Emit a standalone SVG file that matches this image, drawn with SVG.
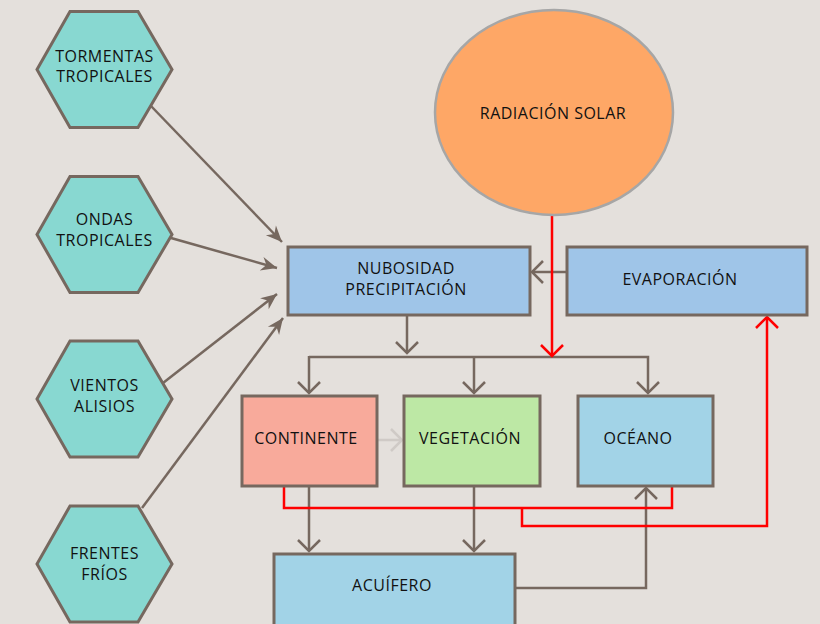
<svg xmlns="http://www.w3.org/2000/svg" width="820" height="624" viewBox="0 0 820 624">
<defs>
<style>
.hex{fill:#88d8d1;stroke:#76685f;stroke-width:3}
.box{stroke:#76685f;stroke-width:3}
.t{font-family:"Open Sans","Liberation Sans",sans-serif;font-size:16px;fill:#111111;text-anchor:middle;letter-spacing:0.5px}
.c{fill:none;stroke:#76685f;stroke-width:2.5}
.r{fill:none;stroke:#ff0000;stroke-width:2.5}
</style>
<marker id="fa" markerUnits="userSpaceOnUse" markerWidth="20" markerHeight="20" viewBox="0 0 20 20" refX="16" refY="10" orient="auto" overflow="visible">
<path d="M0,3 L16,10 L0,17 L5,10 z" fill="#76685f"/>
</marker>
<marker id="oa" markerUnits="userSpaceOnUse" markerWidth="26" markerHeight="26" viewBox="0 0 26 26" refX="13" refY="13" orient="auto" overflow="visible">
<path d="M2,2 L13,13 L2,24" fill="none" stroke="#76685f" stroke-width="2.5"/>
</marker>
<marker id="og" markerUnits="userSpaceOnUse" markerWidth="26" markerHeight="26" viewBox="0 0 26 26" refX="13" refY="13" orient="auto" overflow="visible">
<path d="M2,2 L13,13 L2,24" fill="none" stroke="#cfcac6" stroke-width="2.5"/>
</marker>
<marker id="ra" markerUnits="userSpaceOnUse" markerWidth="26" markerHeight="26" viewBox="0 0 26 26" refX="13" refY="13" orient="auto" overflow="visible">
<path d="M2,2 L13,13 L2,24" fill="none" stroke="#ff0000" stroke-width="2.5"/>
</marker>
</defs>
<rect width="820" height="624" fill="#e4e0dc"/>

<g id="connectors">
<line class="c" x1="151" y1="106" x2="282" y2="242" marker-end="url(#fa)"/>
<line class="c" x1="171" y1="238" x2="277" y2="268" marker-end="url(#fa)"/>
<line class="c" x1="163" y1="383" x2="277" y2="294" marker-end="url(#fa)"/>
<line class="c" x1="142" y1="508" x2="283" y2="318" marker-end="url(#fa)"/>
<line class="c" x1="407" y1="316" x2="407" y2="353" marker-end="url(#oa)"/>
<polyline class="c" points="309,357 648,357 648,393" marker-end="url(#oa)"/>
<line class="c" x1="309" y1="356" x2="309" y2="393" marker-end="url(#oa)"/>
<line class="c" x1="474" y1="357" x2="474" y2="393" marker-end="url(#oa)"/>
<line class="c" x1="567" y1="272" x2="532" y2="272" marker-end="url(#oa)"/>
<line x1="378" y1="440" x2="402" y2="440" stroke="#cfcac6" stroke-width="2.5" marker-end="url(#og)"/>
<line class="c" x1="309" y1="487" x2="309" y2="551" marker-end="url(#oa)"/>
<line class="c" x1="474" y1="487" x2="474" y2="551" marker-end="url(#oa)"/>
<polyline class="c" points="516,588 646,588 646,488" marker-end="url(#oa)"/>
<line class="r" x1="552" y1="215" x2="552" y2="356" marker-end="url(#ra)"/>
<polyline class="r" points="284,487 284,508 672,508 672,487"/>
<polyline class="r" points="522,507 522,526 767,526 767,317" marker-end="url(#ra)"/>
</g>

<g id="tormentas">
<polygon class="hex" points="37,69.5 70,11.5 138,11.5 172,69.5 138,127.5 70,127.5"/>
<text class="t" x="104.5" y="62">TORMENTAS</text>
<text class="t" x="104.5" y="82">TROPICALES</text>
</g>
<g id="ondas">
<polygon class="hex" points="37,234.5 70,176.5 138,176.5 172,234.5 138,292.5 70,292.5"/>
<text class="t" x="104.5" y="225">ONDAS</text>
<text class="t" x="104.5" y="246">TROPICALES</text>
</g>
<g id="vientos">
<polygon class="hex" points="37,399 70,341 138,341 172,399 138,457 70,457"/>
<text class="t" x="104.5" y="391">VIENTOS</text>
<text class="t" x="104.5" y="412">ALISIOS</text>
</g>
<g id="frentes">
<polygon class="hex" points="37,564 70,506 138,506 172,564 138,622 70,622"/>
<text class="t" x="104.5" y="559">FRENTES</text>
<text class="t" x="104.5" y="580">FRÍOS</text>
</g>

<g id="radiacion">
<ellipse cx="554" cy="112.5" rx="119" ry="102.5" fill="#fea766" stroke="#a6a6a6" stroke-width="2.5"/>
<text class="t" x="553" y="119">RADIACIÓN SOLAR</text>
</g>

<g id="nubosidad">
<rect class="box" x="288" y="247" width="242" height="68" fill="#9fc5e8"/>
<text class="t" x="406" y="274">NUBOSIDAD</text>
<text class="t" x="406" y="295">PRECIPITACIÓN</text>
</g>
<g id="evaporacion">
<rect class="box" x="567" y="247" width="240" height="68" fill="#9fc5e8"/>
<text class="t" x="680" y="285">EVAPORACIÓN</text>
</g>
<g id="continente">
<rect class="box" x="242" y="396" width="135" height="90" fill="#f8aa9b"/>
<text class="t" x="306" y="444">CONTINENTE</text>
</g>
<g id="vegetacion">
<rect class="box" x="404" y="396" width="136" height="90" fill="#bde8a5"/>
<text class="t" x="470" y="444">VEGETACIÓN</text>
</g>
<g id="oceano">
<rect class="box" x="578" y="396" width="135" height="90" fill="#a2d3e7"/>
<text class="t" x="638" y="444">OCÉANO</text>
</g>
<g id="acuifero">
<rect class="box" x="274" y="554" width="241" height="72" fill="#a2d3e7"/>
<text class="t" x="392" y="591">ACUÍFERO</text>
</g>
</svg>
